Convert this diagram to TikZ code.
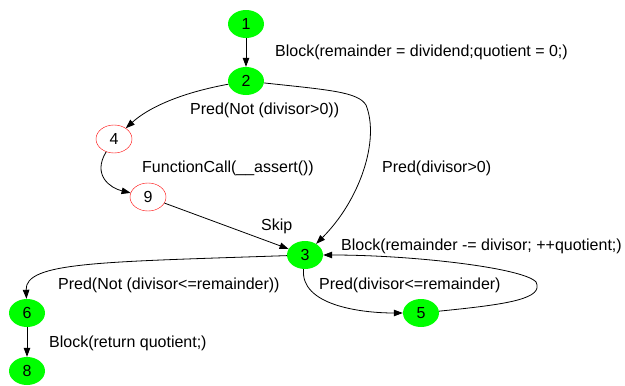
\documentclass[tikz,border=0pt]{standalone}
\usepackage{fontspec}
\setmainfont{Liberation Sans}
\usetikzlibrary{shapes.geometric,arrows.meta}
\definecolor{blkgreen}{RGB}{0,255,0}
\definecolor{callred}{RGB}{255,0,0}
\tikzset{
  stmt/.style={ellipse,fill=blkgreen,inner sep=0pt,minimum width=36pt,minimum height=28pt},
  call/.style={ellipse,draw=callred,fill=white,inner sep=0pt,minimum width=36pt,minimum height=28pt},
  edge/.style={line width=0.8pt,-{Triangle[length=9pt,width=6.5pt]}},
  elabel/.style={anchor=west,inner sep=0pt}
}
\begin{document}
\begin{tikzpicture}[x=1pt,y=-1pt]
\fontsize{16}{19}\selectfont
\useasboundingbox (0,0) rectangle (625,386);
% nodes
\node[stmt] (n1) at (246,24) {1};
\node[stmt] (n2) at (246,81) {2};
\node[call] (n4) at (114,139) {4};
\node[call] (n9) at (148,197) {9};
\node[stmt] (n3) at (305,255) {3};
\node[stmt] (n5) at (421,313) {5};
\node[stmt] (n6) at (27,313) {6};
\node[stmt] (n8) at (27,371) {8};
% edges
\draw[edge] (n1) -- (n2);
\draw[edge] (n2) .. controls (180,93) and (148,108) .. (n4);
\draw[edge] (n2) .. controls (330,90) and (358,92) .. (366,105)
  .. controls (380,140) and (360,200) .. (n3);
\draw[edge] (n4) .. controls (92,175) and (110,188) .. (n9);
\draw[edge] (n9) -- (n3);
\draw[edge] (n3) .. controls (100,262) and (25,262) .. (n6);
\draw[edge] (n6) -- (n8);
\draw[edge] (n3) .. controls (300,305) and (360,313) .. (n5);
\draw[edge] (n5) .. controls (500,305) and (540,300) .. (537,285)
  .. controls (540,270) and (420,255) .. (n3);
% labels
\node[elabel] (l12) at (275,52) {Block(remainder = dividend;quotient = 0;)};
\node[elabel] (l24) at (190,110) {Pred(Not (divisor>0))};
\node[elabel] (l49) at (142,168) {FunctionCall(\_\_assert())};
\node[elabel] (l23) at (382,168) {Pred(divisor>0)};
\node[elabel] (l93) at (261,226) {Skip};
\node[elabel] (l53) at (341,246) {Block(remainder -= divisor; ++quotient;)};
\node[elabel] (l36) at (58,285) {Pred(Not (divisor<=remainder))};
\node[elabel] (l35) at (319,285) {Pred(divisor<=remainder)};
\node[elabel] (l68) at (49,343) {Block(return quotient;)};
\end{tikzpicture}
\end{document}
